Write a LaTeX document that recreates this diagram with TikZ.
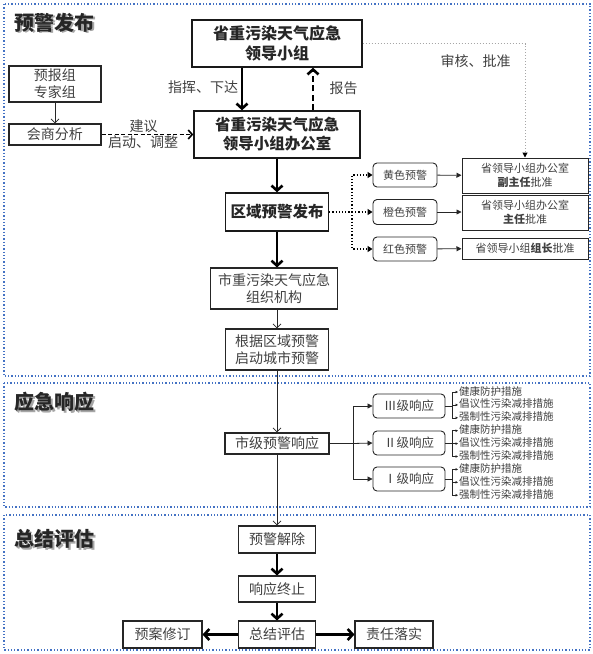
\documentclass[tikz,border=0pt]{standalone}
\usepackage{fontspec}
\setmainfont{Noto Sans CJK SC}
\usetikzlibrary{arrows.meta,calc}
\definecolor{secblue}{HTML}{4472C4}
\definecolor{txt}{HTML}{404040}
\definecolor{lgray}{HTML}{A6A6A6}
\begin{document}
\begin{tikzpicture}[x=1pt,y=-1pt,
  sect/.style={draw=secblue, dotted, line width=1.3pt},
  box/.style={draw=black!85, line width=1.1pt, inner sep=0pt, align=center, text=txt, font=\fontsize{14}{17}\selectfont},
  bbox/.style={draw=black!90, line width=1.4pt, inner sep=0pt, align=center, text=black!85, font=\bfseries\fontsize{15.5}{19}\selectfont},
  rbox/.style={draw=black!85, line width=0.9pt, rounded corners=4pt, inner sep=0pt, align=center, text=txt, font=\fontsize{11}{13}\selectfont},
  sbox/.style={draw=black!85, line width=1pt, inner sep=0pt, align=center, text=txt, font=\fontsize{11}{13.5}\selectfont},
  lab/.style={text=txt, inner sep=0pt, font=\fontsize{14}{16}\selectfont},
  meas/.style={text=txt, inner sep=1pt, anchor=west, text height=7.5pt, text depth=1.5pt, font=\fontsize{10.5}{12}\selectfont},
  head/.style={inner sep=0pt, font=\bfseries\fontsize{20}{24}\selectfont},
  thickarr/.style={line width=2.6pt, -{Straight Barb[length=5pt,width=11pt]}},
  thinarr/.style={line width=0.8pt, draw=black!85, -{Straight Barb[length=4pt,width=8pt]}},
  dasharr/.style={line width=1.6pt, dash pattern=on 4pt off 2.5pt, -{Straight Barb[length=4pt,width=9pt]}},
  thickdash/.style={line width=2.6pt, dash pattern=on 6pt off 3.5pt, -{Straight Barb[length=5pt,width=11pt]}},
  dotarr/.style={line width=1.2pt, dotted, -{Triangle[length=5pt,width=6pt]}},
  dotline/.style={line width=1.2pt, dotted},
  triarr/.style={line width=0.8pt, draw=black!85, -{Triangle[length=5pt,width=5pt]}},
  smallarr/.style={line width=0.6pt, draw=black!85, -{Triangle[length=2.5pt,width=2.5pt]}},
  grayarr/.style={line width=1pt, draw=lgray, dotted, -{Triangle[length=5pt,width=5pt,color=black]}}
]
\useasboundingbox (0,0) rectangle (593,654);

% section frames
\draw[sect] (4,4) rectangle (590,376);
\draw[sect] (4,383) rectangle (590,507);
\draw[sect] (4,515) rectangle (590,650);

% headings with shadow
\node[head, text=black!35] at (56.2,24) {预警发布};
\node[head, text=black!85] (h1) at (55,22.5) {预警发布};
\node[head, text=black!35] at (56.2,403.5) {应急响应};
\node[head, text=black!85] (h2) at (55,402) {应急响应};
\node[head, text=black!35] at (56.2,540.5) {总结评估};
\node[head, text=black!85] (h3) at (55,539) {总结评估};

% section 1 nodes
\node[bbox, font=\bfseries\fontsize{16}{20}\selectfont, minimum width=170, minimum height=47] (leader) at (277,43.5) {省重污染天气应急\\领导小组};
\node[bbox, minimum width=166, minimum height=47] (office) at (277,134.5) {省重污染天气应急\\领导小组办公室};
\node[box, minimum width=92, minimum height=36] (yubao) at (55,84) {预报组\\专家组};
\node[box, minimum width=92, minimum height=21] (huishang) at (55,134.5) {会商分析};
\node[bbox, minimum width=103, minimum height=38] (quyu) at (277,212) {区域预警发布};
\node[rbox, minimum width=64, minimum height=24] (yellow) at (405,175) {黄色预警};
\node[rbox, minimum width=64, minimum height=25] (orange) at (405,212) {橙色预警};
\node[rbox, minimum width=64, minimum height=24] (red) at (405,249) {红色预警};
\node[sbox, minimum width=126, minimum height=35] (r1) at (525,175.5) {省领导小组办公室\\\textbf{副主任}批准};
\node[sbox, minimum width=126, minimum height=35] (r2) at (525,212.5) {省领导小组办公室\\\textbf{主任}批准};
\node[sbox, minimum width=126, minimum height=21] (r3) at (525,248.5) {省领导小组\textbf{组长}批准};
\node[box, minimum width=127, minimum height=41] (cityorg) at (274,288.5) {市重污染天气应急\\组织机构};
\node[box, minimum width=103, minimum height=41] (genju) at (277,349.5) {根据区域预警\\启动城市预警};

% section 1 labels
\node[lab] (l1) at (203,87.5) {指挥、下达};
\node[lab] (l2) at (343.5,88) {报告};
\node[lab] (l3) at (143.5,126) {建议};
\node[lab] (l4) at (143,142.5) {启动、调整};
\node[lab] (l5) at (475.5,61.5) {审核、批准};

% section 1 connectors
\draw[thickarr] ($(leader.south)+(-35,0)$) -- ($(office.north)+(-35,0)$);
\draw[thickdash] ($(office.north)+(36,0)$) -- ($(leader.south)+(36,0)$);
\draw[thinarr] (yubao) -- (huishang);
\draw[dasharr] (huishang.east) -- (office.west);
\draw[grayarr] (leader.east) -| (r1.north);
\draw[thickarr] (office) -- (quyu);
\coordinate (qj) at (352,212);
\draw[dotline] (quyu.east) -- (qj);
\draw[dotarr] (qj) |- (yellow.west);
\draw[dotarr] (qj) -- (orange.west);
\draw[dotarr] (qj) |- (red.west);
\draw[triarr] (yellow) -- (r1);
\draw[triarr] (orange) -- (orange.east -| r2.west);
\draw[triarr] (red) -- (r3);
\draw[thickarr] (quyu.south) -- (quyu.south |- cityorg.north);
\draw[thinarr] (genju.north |- cityorg.south) -- (genju.north);

% section 2
\node[box, minimum width=104, minimum height=21] (shiji) at (277,443.5) {市级预警响应};
\node[rbox, font=\fontsize{12.5}{15}\selectfont, minimum width=72, minimum height=24] (R3) at (409,406) {Ⅲ级响应};
\node[rbox, font=\fontsize{12.5}{15}\selectfont, minimum width=72, minimum height=24] (R2) at (409,443) {Ⅱ级响应};
\node[rbox, font=\fontsize{12.5}{15}\selectfont, minimum width=72, minimum height=24] (R1) at (409,479) {Ⅰ级响应};
\draw[thinarr] (genju) -- (shiji);
\coordinate (sj) at (353,443.5);
\draw[line width=0.8pt, draw=black!85] (shiji.east) -- (sj);
\draw[triarr] (sj) |- (R3.west);
\draw[triarr] (sj) -- (R2.west);
\draw[triarr] (sj) |- (R1.west);

\foreach \r/\c/\t in {R3/406/392, R2/443/430.7, R1/479/469.4}{
  \node[meas] (\r a) at (458,\t) {健康防护措施};
  \node[meas] (\r b) at (458,\t+12.9) {倡议性污染减排措施};
  \node[meas] (\r c) at (458,\t+25.8) {强制性污染减排措施};
  \coordinate (\r j) at (452,\c);
  \draw[line width=0.6pt, draw=black!85] (\r.east) -- (\r j);
  \draw[smallarr] (\r j) |- (\r a.west);
  \draw[smallarr] (\r j) |- (\r b.west);
  \draw[smallarr] (\r j) |- (\r c.west);
}

% section 3
\node[box, minimum width=77, minimum height=27] (jiechu) at (277,539.5) {预警解除};
\node[box, minimum width=77, minimum height=26] (zhongzhi) at (277,589) {响应终止};
\node[box, minimum width=77, minimum height=27] (zongjie) at (277,634.5) {总结评估};
\node[box, minimum width=79, minimum height=27] (xiuding) at (162.5,634.5) {预案修订};
\node[box, minimum width=78, minimum height=27] (luoshi) at (394,634.5) {责任落实};
\draw[thinarr] (shiji) -- (jiechu);
\draw[thickarr] (jiechu) -- (zhongzhi);
\draw[thickarr] (zhongzhi) -- (zongjie);
\draw[thickarr] (zongjie) -- (xiuding);
\draw[thickarr] (zongjie) -- (luoshi);
\end{tikzpicture}
\end{document}
